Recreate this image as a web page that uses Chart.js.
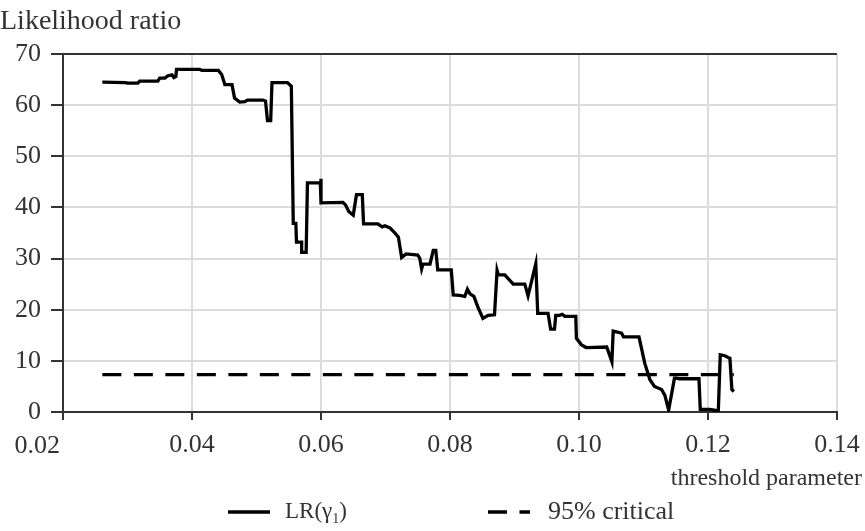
<!DOCTYPE html>
<html>
<head>
<meta charset="utf-8">
<script src="https://cdn.jsdelivr.net/npm/chart.js@4.4.0/dist/chart.umd.min.js"></script>
<style>
  body { margin: 0; background: #fff; }
  #wrap { width: 865px; height: 531px; }
</style>
</head>
<body>
<div id="wrap"><canvas id="lrChart" width="865" height="531"></canvas></div>
<script>
// values
const thresholds = [
  0.0261, 0.0297, 0.0300, 0.0316, 0.0319, 0.0347, 0.0350, 0.0358, 0.0362, 0.0369,
  0.0372, 0.0375, 0.0376, 0.0412, 0.0415, 0.0441, 0.0446, 0.0451, 0.0462, 0.0466,
  0.0474, 0.0482, 0.0486, 0.0510, 0.0514, 0.0517, 0.0522, 0.0524, 0.0548, 0.0554,
  0.0557, 0.0561, 0.0562, 0.0570, 0.0570, 0.0577, 0.0579, 0.0599, 0.0600, 0.0600,
  0.0634, 0.0638, 0.0643, 0.0650, 0.0655, 0.0664, 0.0666, 0.0688, 0.0695, 0.0699,
  0.0707, 0.0714, 0.0720, 0.0725, 0.0732, 0.0750, 0.0753, 0.0756, 0.0758, 0.0769,
  0.0774, 0.0778, 0.0781, 0.0802, 0.0805, 0.0815, 0.0823, 0.0827, 0.0831, 0.0837,
  0.0843, 0.0851, 0.0859, 0.0869, 0.0873, 0.0875, 0.0885, 0.0898, 0.0916, 0.0921,
  0.0933, 0.0936, 0.0952, 0.0956, 0.0962, 0.0964, 0.0970, 0.0974, 0.0978, 0.0995,
  0.0996, 0.1004, 0.1011, 0.1043, 0.1051, 0.1053, 0.1066, 0.1069, 0.1093, 0.1102,
  0.1110, 0.1117, 0.1128, 0.1133, 0.1139, 0.1148, 0.1152, 0.1155, 0.1186, 0.1188,
  0.1203, 0.1216, 0.1219, 0.1226, 0.1234, 0.1237, 0.1240
];
const lrValues = [
  64.5, 64.4, 64.3, 64.3, 64.7, 64.7, 65.3, 65.3, 65.7, 65.9,
  65.4, 65.6, 67.0, 67.0, 66.8, 66.8, 66.0, 64.0, 64.0, 61.4,
  60.6, 60.7, 61.0, 61.0, 60.8, 57.0, 57.0, 64.4, 64.4, 63.7,
  36.9, 36.9, 33.2, 33.2, 31.2, 31.2, 44.8, 44.8, 45.6, 40.9,
  41.0, 40.5, 39.2, 38.5, 42.5, 42.5, 36.8, 36.8, 36.2, 36.4,
  36.0, 35.1, 34.2, 30.2, 30.9, 30.7, 30.1, 28.0, 28.9, 28.9,
  31.6, 31.6, 27.8, 27.8, 22.9, 22.8, 22.6, 24.0, 23.1, 22.6,
  20.6, 18.3, 18.9, 19.0, 27.7, 26.8, 26.8, 25.0, 25.0, 22.7,
  29.0, 19.3, 19.3, 16.2, 16.2, 18.9, 18.9, 19.1, 18.7, 18.7,
  14.4, 13.1, 12.6, 12.7, 9.8, 15.8, 15.4, 14.7, 14.7, 9.5,
  6.3, 5.0, 4.4, 3.3, 0.4, 6.6, 6.6, 6.5, 6.5, 0.5,
  0.5, 0.2, 11.2, 11.0, 10.5, 4.4, 4.0
];
const criticalValue = 7.3;
const criticalFrom = 0.0261;
const criticalTo = 0.1240;

const seriesNames = ['LR(γ1)', '95% critical'];
const xTitle = 'threshold parameter';
const yTitle = 'Likelihood ratio';

const fontFamily = '"Liberation Serif", "DejaVu Serif", serif';
const textColor = '#333';

// titles, legend and the shifted first x label sit outside the plot, drawn by hand
const annotate = {
    id: 'annotate',
    afterDraw(chart) {
        const ctx = chart.ctx;
        const sets = chart.data.datasets;
        const xs = chart.scales.x;
        ctx.save();
        ctx.fillStyle = textColor;
        ctx.textBaseline = 'middle';
        ctx.textAlign = 'left';
        ctx.font = '28px ' + fontFamily;
        ctx.fillText(yTitle, 0, 22);
        ctx.font = '24px ' + fontFamily;
        ctx.textAlign = 'right';
        ctx.fillText(xTitle, 862, 479);

        // first x label sits left of its tick, clear of the y labels
        ctx.font = '26px ' + fontFamily;
        ctx.fillText(xs.min.toFixed(2), xs.getPixelForValue(xs.min) - 3, 446);

        // legend samples
        const ly = 512;
        [[228, sets[0]], [488, sets[1]]].forEach(([x0, ds]) => {
            ctx.beginPath();
            ctx.strokeStyle = ds.borderColor;
            ctx.lineWidth = ds.borderWidth;
            ctx.setLineDash(ds.borderDash || []);
            ctx.moveTo(x0, ly);
            ctx.lineTo(x0 + 42, ly);
            ctx.stroke();
        });
        ctx.setLineDash([]);

        // LR(γ1) with subscript 1
        ctx.textAlign = 'left';
        ctx.font = '23px ' + fontFamily;
        let x = 285;
        ctx.fillText('LR(γ', x, ly);
        x += ctx.measureText('LR(γ').width;
        ctx.font = '14px ' + fontFamily;
        ctx.fillText('1', x, ly + 7);
        x += ctx.measureText('1').width;
        ctx.font = '23px ' + fontFamily;
        ctx.fillText(')', x, ly);

        ctx.font = '26px ' + fontFamily;
        ctx.fillText(seriesNames[1], 548, ly);
        ctx.restore();
    }
};

const lrData = thresholds.map((t, i) => ({x: t, y: lrValues[i]}));
const critData = [{x: criticalFrom, y: criticalValue}, {x: criticalTo, y: criticalValue}];

const lrChart = new Chart(document.getElementById('lrChart'), {
    type: 'line',
    data: {
        datasets: [{
            label: seriesNames[0],
            data: lrData,
            borderColor: '#000',
            borderWidth: 3.3,
            pointRadius: 0,
            tension: 0,
            fill: false
        }, {
            label: seriesNames[1],
            data: critData,
            borderColor: '#000',
            borderWidth: 3.3,
            borderDash: [19, 12.5],
            pointRadius: 0,
            fill: false
        }]
    },
    options: {
        responsive: false,
        animation: false,
        layout: {
            padding: {top: 54, right: 28, left: 0, bottom: 0}
        },
        plugins: {
            legend: {display: false},
            tooltip: {enabled: false}
        },
        scales: {
            x: {
                type: 'linear',
                min: 0.02,
                max: 0.14,
                afterFit: s => {
                    s.height = 119;
                    // keep the plot edge fixed, the labels may overhang
                    s.paddingLeft = 0;
                    s.paddingRight = 0;
                },
                ticks: {
                    stepSize: 0.02,
                    color: textColor,
                    font: {family: fontFamily, size: 26},
                    padding: 10,
                    callback: v => v === 0.02 ? '' : v.toFixed(2)
                },
                grid: {
                    color: '#dcdcdc',
                    lineWidth: 2,
                    tickColor: '#333',
                    tickLength: 8
                },
                border: {color: '#333', width: 2}
            },
            y: {
                min: 0,
                max: 70,
                afterFit: s => { s.width = 63; },
                ticks: {
                    stepSize: 10,
                    color: textColor,
                    font: {family: fontFamily, size: 26},
                    padding: 10
                },
                grid: {
                    color: c => c.tick && c.tick.value === 70 ? '#333' : '#dcdcdc',
                    lineWidth: 2,
                    tickColor: '#333',
                    tickLength: 12
                },
                border: {color: '#333', width: 2}
            }
        }
    },
    plugins: [annotate]
});
</script>
</body>
</html>
